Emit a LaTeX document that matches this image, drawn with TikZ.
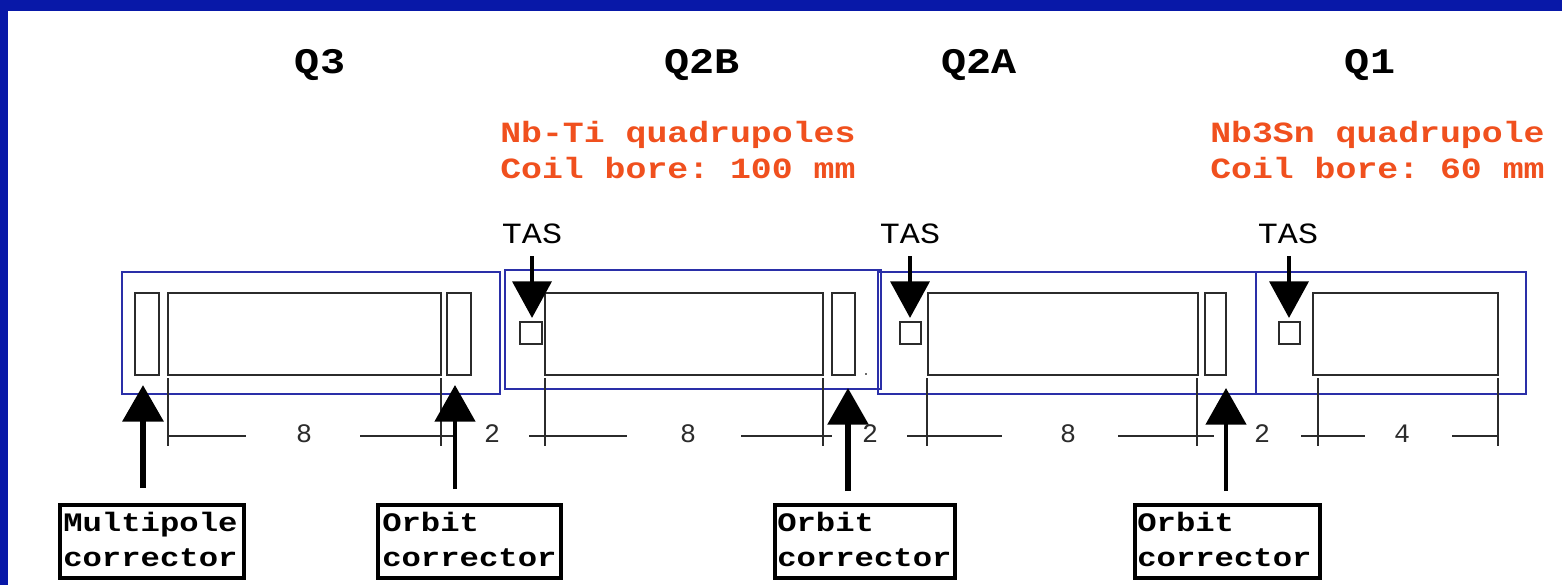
\documentclass[tikz,border=0pt]{standalone}
\usepackage{fontspec}
\usetikzlibrary{arrows.meta}
\newfontfamily\noteMono[FakeStretch=1.187]{Liberation Mono}
\newfontfamily\boxMono[FakeStretch=1.21]{Liberation Mono}
\newfontfamily\tasMono[FakeStretch=1.14]{Liberation Mono}
\newfontfamily\headMono[FakeStretch=1.16]{Liberation Mono}
\newfontfamily\numMono{Liberation Mono}
\frenchspacing
\definecolor{frameblue}{HTML}{0818A8}
\definecolor{boxblue}{HTML}{2A2FA8}
\definecolor{noteorange}{HTML}{F0501E}
\definecolor{ink}{HTML}{2B2B2B}
\tikzset{
  x=0.75pt,y=-0.75pt,
  blubox/.style={draw=boxblue,line width=1.5pt,inner sep=0pt,outer sep=0pt},
  magnet/.style={draw=ink,line width=1.4pt,inner sep=0pt,outer sep=0pt},
  labelbox/.style={draw=black,line width=3pt,inner sep=0pt,outer sep=0pt},
  heading/.style={font=\headMono\bfseries\fontsize{27}{27}\selectfont,anchor=base,inner sep=0pt},
  note/.style={font=\noteMono\bfseries\fontsize{22}{22}\selectfont\frenchspacing,text=noteorange,anchor=base west,inner sep=0pt},
  boxtext/.style={font=\boxMono\bfseries\fontsize{20}{20}\selectfont,anchor=base west,inner sep=0pt},
  tastext/.style={font=\tasMono\fontsize{22}{22}\selectfont,anchor=base,inner sep=0pt},
  numtext/.style={font=\numMono\fontsize{20}{20}\selectfont,text=ink,anchor=base,inner sep=0pt},
  dimline/.style={draw=ink,line width=1pt},
  fatup/.style={draw=black,line width=#1,-{Triangle[length=27.5pt,width=30pt]}},
  fatdown/.style={draw=black,line width=#1,-{Triangle[length=27.5pt,width=29pt]}},
}
\newcommand{\rbox}[6]{\node[#2,anchor=north west,minimum width={(#5-#3)*0.75pt},minimum height={(#6-#4)*0.75pt}] (#1) at (#3,#4) {};}
\newcommand{\dimseg}[3]{\coordinate (#1a) at (#2,436); \coordinate (#1b) at (#3,436); \draw[dimline] (#1a) -- (#1b);}
\newcommand{\dimtick}[2]{\coordinate (#1a) at (#2,378); \coordinate (#1b) at (#2,446); \draw[dimline] (#1a) -- (#1b);}
\begin{document}
\begin{tikzpicture}
\useasboundingbox (0,0) rectangle (1562,585);
% slide frame
\fill[white] (0,0) rectangle (1562,585);
\fill[frameblue] (0,0) rectangle (1562,11);
\fill[frameblue] (0,0) rectangle (8,585);
% headings
\node[heading] (q3) at (320,74) {Q3};
\node[heading] (q2b) at (702,74) {Q2B};
\node[heading] (q2a) at (979,74) {Q2A};
\node[heading] (q1) at (1370,74) {Q1};
\node[note] (n1) at (500,142) {Nb-Ti quadrupoles};
\node[note] (n2) at (500,178) {Coil bore: 100 mm};
\node[note] (n3) at (1210,142) {Nb3Sn quadrupole};
\node[note] (n4) at (1210,178) {Coil bore: 60 mm};
% blue frames
\rbox{f1}{blubox}{122}{272}{500}{394}
\rbox{f2}{blubox}{505}{270}{881}{389}
\rbox{f3}{blubox}{878}{272}{1256}{394}
\rbox{f4}{blubox}{1256}{272}{1526}{394}
% magnets
\rbox{mc}{magnet}{135}{293}{159}{375}
\rbox{m3}{magnet}{168}{293}{441}{375}
\rbox{c3}{magnet}{447}{293}{471}{375}
\rbox{t2b}{magnet}{520}{322}{542}{344}
\rbox{m2b}{magnet}{545}{293}{823}{375}
\rbox{c2b}{magnet}{832}{293}{855}{375}
\rbox{t2a}{magnet}{900}{322}{921}{344}
\rbox{m2a}{magnet}{928}{293}{1198}{375}
\rbox{c2a}{magnet}{1205}{293}{1226}{375}
\rbox{t1}{magnet}{1279}{322}{1300}{344}
\rbox{m1}{magnet}{1313}{293}{1498}{375}
\fill[ink!70] (865,373) rectangle (867,375);
% TAS labels and arrows
\node[tastext] (tas1) at (532,243) {TAS};
\node[tastext] (tas2) at (910,243) {TAS};
\node[tastext] (tas3) at (1288,243) {TAS};
\coordinate (d1s) at (532,256); \coordinate (d1e) at (532,318);
\coordinate (d2s) at (910,256); \coordinate (d2e) at (910,318);
\coordinate (d3s) at (1289,256); \coordinate (d3e) at (1289,318);
\draw[fatdown=3.6pt] (d1s) -- (d1e);
\draw[fatdown=3.6pt] (d2s) -- (d2e);
\draw[fatdown=3.6pt] (d3s) -- (d3e);
% dimension lines
\dimtick{ta}{168}\dimtick{tb}{441}\dimtick{tc}{545}\dimtick{td}{823}
\dimtick{te}{927}\dimtick{tf}{1197}\dimtick{tg}{1318}\dimtick{th}{1498}
\dimseg{sa}{168}{246}
\dimseg{sb}{360}{456}
\dimseg{sc}{529}{627}
\dimseg{sd}{741}{832}
\dimseg{se}{907}{1002}
\dimseg{sf}{1118}{1214}
\dimseg{sg}{1301}{1365}
\dimseg{sh}{1452}{1498}
\node[numtext] (d8a) at (304,442) {8};
\node[numtext] (d2a) at (492,442) {2};
\node[numtext] (d8b) at (688,442) {8};
\node[numtext] (d2b) at (870,442) {2};
\node[numtext] (d8c) at (1068,442) {8};
\node[numtext] (d2c) at (1262,442) {2};
\node[numtext] (d4) at (1402,442) {4};
% label boxes
\rbox{lb1}{labelbox}{60}{505}{244}{578}
\rbox{lb2}{labelbox}{378}{505}{561}{578}
\rbox{lb3}{labelbox}{775}{505}{955}{578}
\rbox{lb4}{labelbox}{1135}{505}{1320}{578}
\node[boxtext] (l1a) at (63,531) {Multipole};
\node[boxtext] (l1b) at (63,566) {corrector};
\node[boxtext] (l2a) at (382,531) {Orbit};
\node[boxtext] (l2b) at (382,566) {corrector};
\node[boxtext] (l3a) at (777,531) {Orbit};
\node[boxtext] (l3b) at (777,566) {corrector};
\node[boxtext] (l4a) at (1137,531) {Orbit};
\node[boxtext] (l4b) at (1137,566) {corrector};
% corrector arrows
\coordinate (u1s) at (143,488); \coordinate (u1e) at (143,385);
\coordinate (u2s) at (455,489); \coordinate (u2e) at (455,385);
\coordinate (u3s) at (848,491); \coordinate (u3e) at (848,388);
\coordinate (u4s) at (1226,491); \coordinate (u4e) at (1226,388);
\draw[fatup=5pt] (u1s) -- (u1e);
\draw[fatup=3.6pt] (u2s) -- (u2e);
\draw[fatup=4.4pt] (u3s) -- (u3e);
\draw[fatup=3.6pt] (u4s) -- (u4e);
\end{tikzpicture}
\end{document}
